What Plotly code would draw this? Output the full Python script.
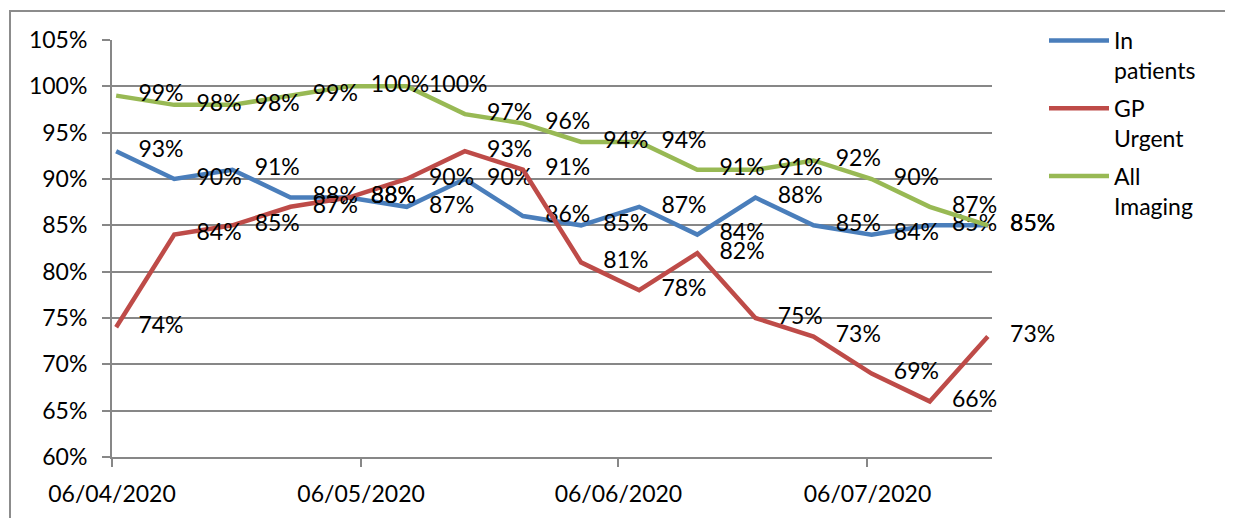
import pandas as pd
import plotly.graph_objects as go

dates = ["2020-04-06", "2020-04-13", "2020-04-20", "2020-04-27", "2020-05-04", "2020-05-11",
         "2020-05-18", "2020-05-25", "2020-06-01", "2020-06-08", "2020-06-15", "2020-06-22",
         "2020-06-29", "2020-07-06", "2020-07-13", "2020-07-20"]
in_patients = [93, 90, 91, 88, 88, 87, 90, 86, 85, 87, 84, 88, 85, 84, 85, 85]
gp_urgent = [74, 84, 85, 87, 88, 90, 93, 91, 81, 78, 82, 75, 73, 69, 66, 73]
all_imaging = [99, 98, 98, 99, 100, 100, 97, 96, 94, 94, 91, 91, 92, 90, 87, 85]
tick_dates = ["2020-04-06", "2020-05-06", "2020-06-06", "2020-07-06"]
tick_labels = ["06/04/2020", "06/05/2020", "06/06/2020", "06/07/2020"]

# Excel date axis centres each point within its day
x = pd.to_datetime(dates) + pd.Timedelta(hours=12)

FONT = "Lato"
FS = 23
series = [
    ("In<br>patients", in_patients, "#4A7EBB"),
    ("GP<br>Urgent", gp_urgent, "#BE4B48"),
    ("All<br>Imaging", all_imaging, "#98B954"),
]

fig = go.Figure()
for i, (name, vals, color) in enumerate(series):
    fig.add_trace(go.Scatter(
        x=x, y=vals, name=name, mode="lines+markers+text",
        legendgroup=f"g{i}",
        line=dict(color=color, width=4.5),
        marker=dict(size=34, color="rgba(0,0,0,0)"),
        text=[f"{v}%" for v in vals], textposition="middle right",
        textfont=dict(family=FONT, size=FS, color="black"),
        cliponaxis=False,
    ))

# page body has an 8px margin in the browser; compensate
OFF = 8
W, H = 1233 - OFF, 518 - OFF
L, R, T, B = 112 - OFF, 992 - OFF, 40 - OFF, 457 - OFF
pw, ph = R - L, B - T

fig.update_layout(
    width=W, height=H,
    margin=dict(l=L, r=W - R, t=T, b=H - B, autoexpand=False),
    paper_bgcolor="white", plot_bgcolor="white",
    font=dict(family=FONT, size=FS, color="black"),
    showlegend=True,
    legend=dict(
        x=(1044 - OFF - L) / pw, y=(B - (19 - OFF)) / ph, xanchor="left", yanchor="top",
        valign="top", itemwidth=60, tracegroupgap=5,
        font=dict(family=FONT, size=FS, color="black"),
        bgcolor="rgba(0,0,0,0)",
    ),
    xaxis=dict(
        type="date", range=["2020-04-06", "2020-07-21"],
        tickvals=tick_dates, ticktext=tick_labels,
        showgrid=False, showline=True, linecolor="#878787", linewidth=2,
        ticks="outside", ticklen=8, tickcolor="#878787", tickwidth=2,
        ticklabelstandoff=7, automargin=False,
    ),
    yaxis=dict(
        range=[60, 105], dtick=5, ticksuffix="%",
        showgrid=True, gridcolor="#878787", gridwidth=2,
        showline=True, linecolor="#878787", linewidth=2,
        ticks="outside", ticklen=8, tickcolor="#878787", tickwidth=2,
        ticklabelstandoff=10, zeroline=False, automargin=False,
    ),
    shapes=[dict(
        type="rect", xref="paper", yref="paper",
        x0=(10 - OFF - L) / pw, x1=(1250 - L) / pw,
        y0=(B - 540) / ph, y1=(B - (11 - OFF)) / ph,
        line=dict(color="#8C8C8C", width=2), layer="below",
    )],
)

fig.write_html("out.html")
